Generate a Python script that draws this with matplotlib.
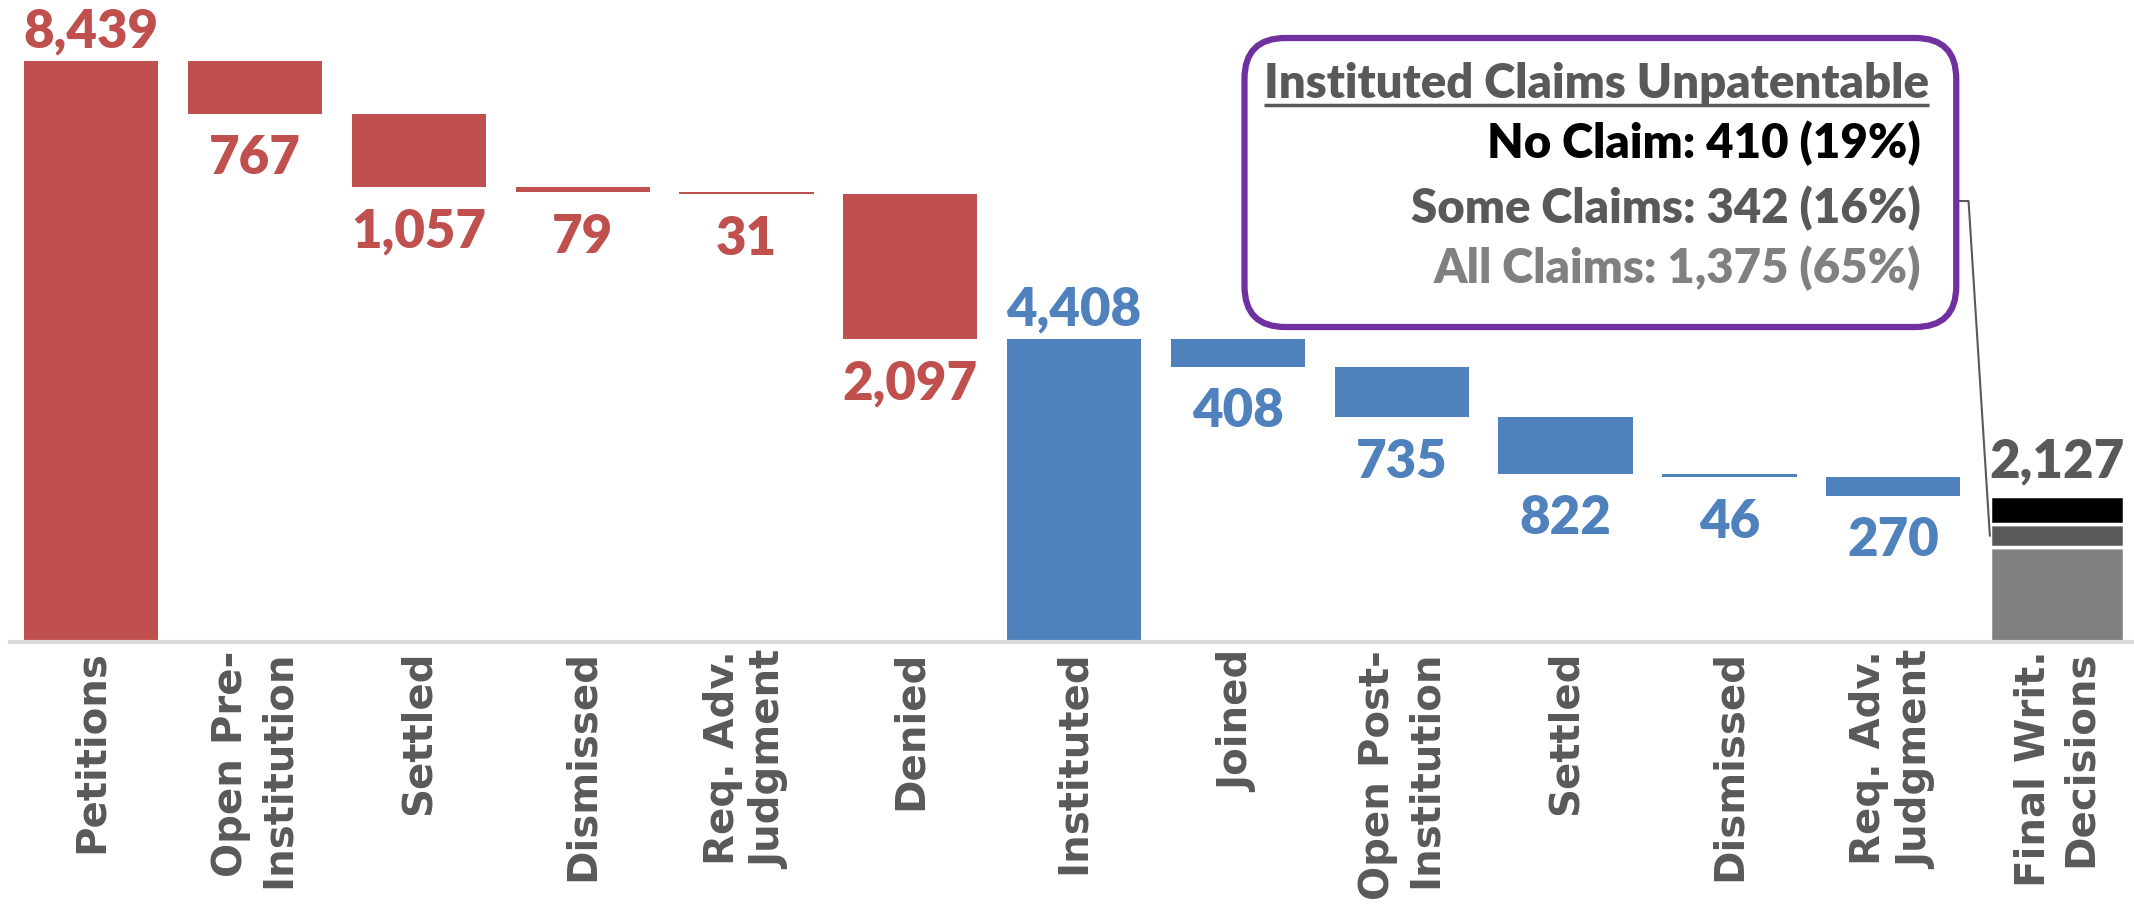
import numpy as np
import matplotlib
matplotlib.use("Agg")
import matplotlib.pyplot as plt
from matplotlib.patches import FancyBboxPatch

# Veriler
categories = ["Petitions", "Open Pre-\nInstitution", "Settled", "Dismissed",
              "Req. Adv.\nJudgment", "Denied", "Instituted", "Joined",
              "Open Post-\nInstitution", "Settled", "Dismissed",
              "Req. Adv.\nJudgment", "Final Writ.\nDecisions"]
values = [8439, -767, -1057, -79, -31, -2097, 4408, -408, -735, -822, -46, -270, 2127]
kinds = ["total", "delta", "delta", "delta", "delta", "delta",
         "total", "delta", "delta", "delta", "delta", "delta", "final"]
final_parts = [1375, 342, 410]          # All, Some, No claim
final_names = ["All Claims", "Some Claims", "No Claim"]

RED = "#C0504D"
BLUE = "#4F81BD"
GRAY_TXT = "#595959"
final_colors = ["#808080", "#595959", "#000000"]
label_colors = [RED] * 6 + [BLUE] * 6 + [GRAY_TXT]

VAL_FONT = ["Lato", "DejaVu Sans"]
VAL_SIZE = 38

fig = plt.figure(figsize=(21.34, 9.14), dpi=100)
ax = fig.add_axes([10 / 2134, 1 - 642 / 914, 1 - 10 / 2134, 642 / 914])

x = np.arange(len(categories))
w = 0.82
level = 0
for i, (v, k) in enumerate(zip(values, kinds)):
    col = label_colors[i]
    if k == "total":
        ax.bar(x[i], v, width=w, color=col)
        level = v
        ax.text(x[i], v + 60, f"{v:,}", ha="center", va="bottom", color=col,
                fontsize=VAL_SIZE, fontweight="heavy", family=VAL_FONT)
    elif k == "delta":
        ax.bar(x[i], v, bottom=level, width=w, color=col)
        level = level + v
        ax.text(x[i], level - 300, f"{-v:,}", ha="center", va="top", color=col,
                fontsize=VAL_SIZE, fontweight="heavy", family=VAL_FONT)
    else:
        bottom = 0
        for p, c in zip(final_parts, final_colors):
            ax.bar(x[i], p, bottom=bottom, width=w, color=c,
                   edgecolor="white", linewidth=2.5)
            bottom += p
        ax.text(x[i], v + 130, f"{v:,}", ha="center", va="bottom", color=col,
                fontsize=VAL_SIZE, fontweight="heavy", family=VAL_FONT)

ax.set_xlim(-0.496, 12.47)
ax.set_ylim(0, 9325)
ax.set_yticks([])
for s in ["top", "right", "left"]:
    ax.spines[s].set_visible(False)
ax.spines["bottom"].set_color("#D9D9D9")
ax.spines["bottom"].set_linewidth(3)
ax.set_xticks(x)
ax.set_xticklabels(categories, rotation=90, fontsize=29, fontweight="bold",
                   color=GRAY_TXT, family="DejaVu Sans", multialignment="right",
                   linespacing=1.25)
ax.tick_params(axis="x", length=0, pad=6)

# Açıklama kutusu
box = FancyBboxPatch((7.04, 4575), 11.385 - 7.04, 8773 - 4575,
                     boxstyle="round,pad=0,rounding_size=0.25",
                     mutation_aspect=2379, facecolor="white",
                     edgecolor="#7030A0", linewidth=4.5, zorder=5)
ax.add_patch(box)

title = ax.text(11.22, 8105, "Instituted Claims Unpatentable", ha="right",
                va="center", fontsize=34, fontweight="heavy", color=GRAY_TXT,
                family=VAL_FONT, zorder=6)
pct = [p / values[-1] * 100 for p in final_parts]
line_y = [5432, 6304, 7248]
line_col = ["#808080", "#595959", "#000000"]
for name, p, q, yy, c in zip(final_names, final_parts, pct, line_y, line_col):
    ax.text(11.17, yy, f"{name}: {p:,} ({q:.0f}%)", ha="right", va="center",
            fontsize=34, fontweight="heavy", color=c, family=VAL_FONT, zorder=6)

# Başlığın altını çiz
fig.canvas.draw()
bb = title.get_window_extent().transformed(ax.transData.inverted())
ax.plot([bb.x0, bb.x1], [bb.y0 + 20, bb.y0 + 20], color=GRAY_TXT, lw=2.5,
        zorder=6, solid_capstyle="butt")

# Bağlantı çizgisi
some_mid = final_parts[0] + final_parts[1] / 2
ax.plot([11.385, 11.46, 12 - w / 2], [6405, 6405, some_mid], color=GRAY_TXT,
        lw=1.5, zorder=4)

fig.savefig("out.png", dpi=100)
